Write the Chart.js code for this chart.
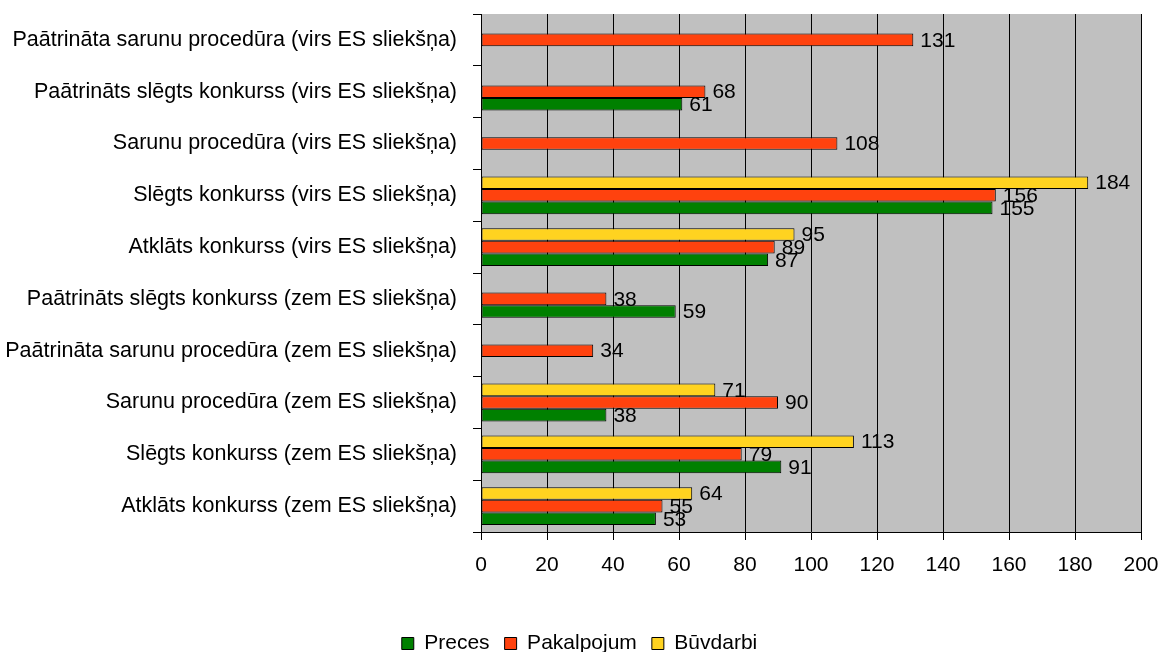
<!DOCTYPE html>
<html>
<head>
<meta charset="utf-8">
<script src="https://cdn.jsdelivr.net/npm/chart.js@4.4.1/dist/chart.umd.min.js"></script>
<style>
body { margin: 0; background: #fff; }
#wrap { width: 1163px; height: 652px; }
</style>
</head>
<body>
<div id="wrap"><canvas id="myChart" width="1163" height="652"></canvas></div>
<script>
var categories = [
"Paātrināta sarunu procedūra (virs ES sliekšņa)",
"Paātrināts slēgts konkurss (virs ES sliekšņa)",
"Sarunu procedūra (virs ES sliekšņa)",
"Slēgts konkurss (virs ES sliekšņa)",
"Atklāts konkurss (virs ES sliekšņa)",
"Paātrināts slēgts konkurss (zem ES sliekšņa)",
"Paātrināta sarunu procedūra (zem ES sliekšņa)",
"Sarunu procedūra (zem ES sliekšņa)",
"Slēgts konkurss (zem ES sliekšņa)",
"Atklāts konkurss (zem ES sliekšņa)"
];
var preces     = [null, 61, null, 155, 87, 59, null, 38, 91, 53];
var pakalpojum = [131, 68, 108, 156, 89, 38, 34, 90, 79, 55];
var buvdarbi   = [null, null, null, 184, 95, null, null, 71, 113, 64];
var xMin = 0, xMax = 200, xStep = 20;

var FONT = "'Liberation Sans', Arial, sans-serif";

// gray plot background, legend nudged to the centre
var plotBg = {
  id: "plotBg",
  afterLayout: function(chart) {
    chart.legend.left += 9;
    chart.legend.right += 9;
  },
  beforeDraw: function(chart) {
    var a = chart.chartArea, ctx = chart.ctx;
    ctx.save();
    ctx.fillStyle = "#C0C0C0";
    ctx.fillRect(a.left, a.top, a.right - a.left, a.bottom - a.top);
    ctx.restore();
  }
};

// value labels right of each bar
var barLabels = {
  id: "barLabels",
  afterDatasetsDraw: function(chart) {
    var ctx = chart.ctx;
    ctx.save();
    ctx.font = "21px " + FONT;
    ctx.fillStyle = "#000";
    ctx.textAlign = "left";
    ctx.textBaseline = "middle";
    chart.data.datasets.forEach(function(ds, i) {
      var meta = chart.getDatasetMeta(i);
      meta.data.forEach(function(bar, j) {
        var v = ds.data[j];
        if (v === null) return;
        ctx.fillText(String(v), bar.x + 7, bar.y + 1);
      });
    });
    ctx.restore();
  }
};

Chart.defaults.font.family = FONT;
Chart.defaults.font.size = 21;
Chart.defaults.color = "#000";

new Chart("myChart", {
  type: "bar",
  data: {
    labels: categories,
    datasets: [
      { label: "Būvdarbi", data: buvdarbi, backgroundColor: "#FFD320" },
      { label: "Pakalpojum", data: pakalpojum, backgroundColor: "#FF420E" },
      { label: "Preces", data: preces, backgroundColor: "#008000" }
    ].map(function(d) {
      d.borderColor = "#000";
      d.borderWidth = 1;
      d.borderSkipped = false;
      d.categoryPercentage = 0.73;
      d.barPercentage = 1;
      return d;
    })
  },
  options: {
    indexAxis: "y",
    responsive: false,
    animation: false,
    layout: { padding: { top: 14, right: 22, bottom: -12, left: 0 } },
    scales: {
      x: {
        min: xMin,
        max: xMax,
        ticks: { stepSize: xStep, padding: 13, color: "#000" },
        grid: { color: "#000", lineWidth: 1, tickLength: 8 },
        border: { color: "#000" },
        afterFit: function(s) { s.height = 86; s.paddingLeft = 0; s.paddingRight = 0; }
      },
      y: {
        ticks: { padding: 16, color: "#000", font: { size: 21.5 } },
        grid: { offset: true, drawOnChartArea: false, color: "#000", tickLength: 8 },
        border: { color: "#000" },
        afterFit: function(s) { s.width = 481; s.paddingTop = 0; s.paddingBottom = 0; }
      }
    },
    plugins: {
      legend: {
        position: "bottom",
        reverse: true,
        labels: { boxWidth: 12, boxHeight: 12, padding: 15, color: "#000" }
      },
      tooltip: { enabled: false }
    }
  },
  plugins: [plotBg, barLabels]
});
</script>
</body>
</html>
